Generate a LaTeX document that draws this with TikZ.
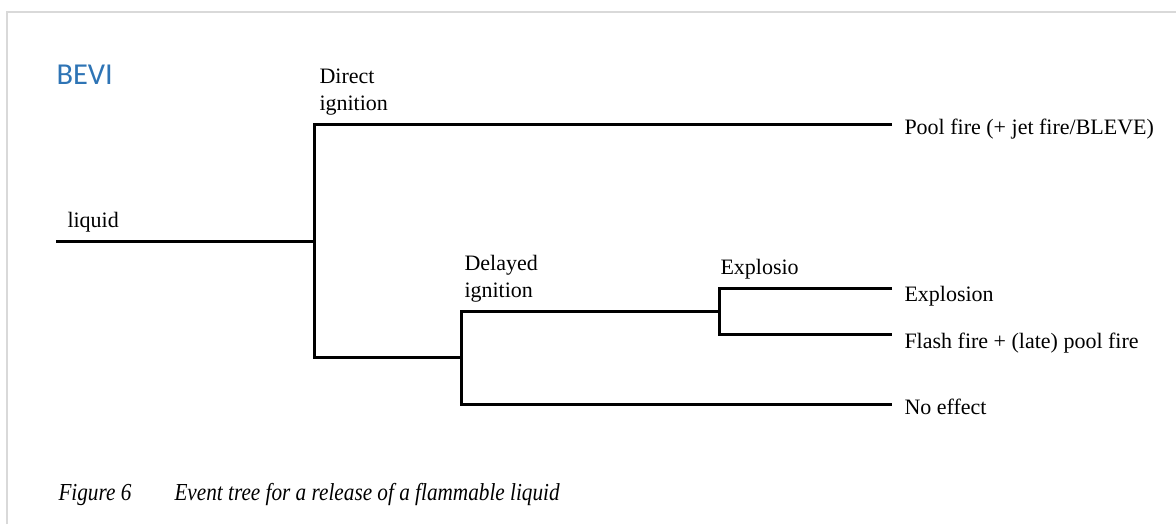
\documentclass[tikz,border=0pt]{standalone}
\usepackage{fontspec}
\setmainfont{Liberation Serif}
\newfontfamily\bevifont{Carlito}
\newfontfamily\capfont[FakeStretch=0.87]{Liberation Serif}
\definecolor{bevi blue}{RGB}{46,116,181}
\definecolor{frame gray}{RGB}{217,217,217}
\begin{document}
\begin{tikzpicture}[x=0.5pt, y=-0.5pt, line width=1.5pt,
    label node/.style={inner sep=0pt, anchor=base west, align=left, font=\fontsize{11}{13.5}\selectfont},
    caption node/.style={inner sep=0pt, anchor=base west, font=\capfont\itshape\fontsize{12.2}{14}\selectfont}]

    \useasboundingbox (0,0) rectangle (1176,524);
    \draw[frame gray, line width=1pt] (7,524) -- (7,12) -- (1176,12);

    % labels
    \node[inner sep=0pt, anchor=base west, text=bevi blue, font=\bevifont\fontsize{15.2}{18}\selectfont] (bevi) at (55,84) {BEVI};
    \node[label node] (liquid) at (66,227) {liquid};
    \node[label node] (direct) at (318,111) {Direct\\ignition};
    \node[label node] (delayed) at (463,297) {Delayed\\ignition};
    \node[label node] (explosio) at (719,274) {Explosio};
    \node[label node] (pool) at (903,134) {Pool fire (+ jet fire/BLEVE)};
    \node[label node] (explosion) at (903,301) {Explosion};
    \node[label node] (flash) at (903,348) {Flash fire + (late) pool fire};
    \node[label node] (noeffect) at (903,414) {No effect};
    \node[caption node] (fig) at (57,500) {Figure 6};
    \node[caption node] (caption) at (173,500) {Event tree for a release of a flammable liquid};

    % branch points
    \coordinate (root) at (56,241);
    \coordinate (j1) at (314,241);
    \coordinate (j2) at (461,357);
    \coordinate (j3) at (719,311);
    \coordinate (e1) at (892,124);
    \coordinate (e2) at (892,288);
    \coordinate (e3) at (892,334);
    \coordinate (e4) at (892,404);

    \draw (root) -- (j1);
    \draw (e1) -| (j1) |- (j2);
    \draw (j3) -| (j2) |- (e4);
    \draw (e2) -| (j3) |- (e3);
\end{tikzpicture}
\end{document}
